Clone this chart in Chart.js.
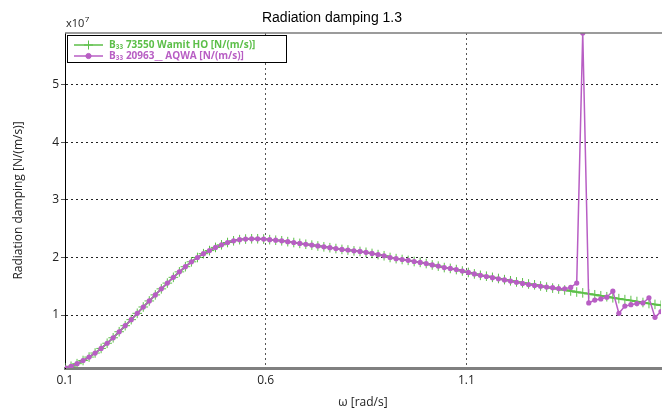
<!DOCTYPE html>
<html>
<head>
<meta charset="utf-8">
<script src="https://cdn.jsdelivr.net/npm/chart.js@4/dist/chart.umd.min.js"></script>
<style>
html, body { margin: 0; padding: 0; background: #fff; }
</style>
</head>
<body>
<canvas id="myChart" width="662" height="408"></canvas>
<script>
// frequencies [rad/s]
const omega = [
  0.100, 0.115, 0.130, 0.145, 0.160, 0.175, 0.190, 0.205, 0.220, 0.235,
  0.250, 0.265, 0.280, 0.295, 0.310, 0.325, 0.340, 0.355, 0.370, 0.385,
  0.400, 0.415, 0.430, 0.445, 0.460, 0.475, 0.490, 0.505, 0.520, 0.535,
  0.550, 0.565, 0.580, 0.595, 0.610, 0.625, 0.640, 0.655, 0.670, 0.685,
  0.700, 0.715, 0.730, 0.745, 0.760, 0.775, 0.790, 0.805, 0.820, 0.835,
  0.850, 0.865, 0.880, 0.895, 0.910, 0.925, 0.940, 0.955, 0.970, 0.985,
  1.000, 1.015, 1.030, 1.045, 1.060, 1.075, 1.090, 1.105, 1.120, 1.135,
  1.150, 1.165, 1.180, 1.195, 1.210, 1.225, 1.240, 1.255, 1.270, 1.285,
  1.300, 1.315, 1.330, 1.345, 1.360, 1.375, 1.390, 1.405, 1.420, 1.435,
  1.450, 1.465, 1.480, 1.495, 1.510, 1.525, 1.540, 1.555, 1.570, 1.585
]

// B33 values in units of 1e7 N/(m/s)
const wamit = [
  0.083, 0.110, 0.155, 0.210, 0.270, 0.340, 0.420, 0.510, 0.605, 0.710,
  0.815, 0.920, 1.030, 1.140, 1.245, 1.350, 1.455, 1.555, 1.655, 1.750,
  1.840, 1.925, 2.000, 2.066, 2.120, 2.175, 2.220, 2.260, 2.290, 2.310,
  2.320, 2.325, 2.325, 2.320, 2.310, 2.300, 2.290, 2.275, 2.260, 2.245,
  2.230, 2.215, 2.200, 2.185, 2.170, 2.155, 2.140, 2.130, 2.115, 2.105,
  2.090, 2.070, 2.050, 2.030, 2.000, 1.980, 1.965, 1.950, 1.930, 1.915,
  1.895, 1.870, 1.850, 1.825, 1.810, 1.790, 1.765, 1.740, 1.715, 1.690,
  1.675, 1.655, 1.635, 1.615, 1.595, 1.575, 1.560, 1.540, 1.525, 1.505,
  1.485, 1.468, 1.452, 1.435, 1.418, 1.400, 1.385, 1.368, 1.352, 1.335,
  1.318, 1.300, 1.285, 1.268, 1.252, 1.235, 1.218, 1.200, 1.185, 1.170
]
const aqwa = [
  0.083, 0.110, 0.155, 0.210, 0.270, 0.340, 0.420, 0.510, 0.605, 0.710,
  0.815, 0.920, 1.030, 1.140, 1.245, 1.350, 1.455, 1.555, 1.655, 1.750,
  1.840, 1.925, 2.000, 2.066, 2.120, 2.175, 2.220, 2.260, 2.290, 2.310,
  2.320, 2.325, 2.325, 2.320, 2.310, 2.300, 2.290, 2.275, 2.260, 2.245,
  2.230, 2.215, 2.200, 2.185, 2.170, 2.155, 2.140, 2.130, 2.115, 2.105,
  2.090, 2.070, 2.050, 2.030, 2.000, 1.980, 1.965, 1.950, 1.930, 1.915,
  1.895, 1.870, 1.850, 1.825, 1.810, 1.790, 1.765, 1.740, 1.715, 1.690,
  1.670, 1.650, 1.630, 1.610, 1.590, 1.570, 1.550, 1.530, 1.515, 1.500,
  1.487, 1.475, 1.460, 1.457, 1.480, 1.556, 5.900, 1.210, 1.260, 1.280,
  1.310, 1.415, 1.030, 1.155, 1.180, 1.200, 1.210, 1.300, 0.960, 1.060
]

const xTicks = [0.1, 0.6, 1.1]
const yTicks = [1, 2, 3, 4, 5]
const seriesNames = ['B\u2083\u2083 73550 Wamit HO [N/(m/s)]', 'B\u2083\u2083 20963__ AQWA [N/(m/s)]']
const chartTitle = 'Radiation damping 1.3'

const green = '#5cbf49'
const purple = '#b85ec4'

// titolo, x10^7, cornice sopra e legenda dentro il grafico
const overlay = {
    id: 'overlay',
    afterDraw(chart) {
        const ctx = chart.ctx
        const area = chart.chartArea
        ctx.save()

        ctx.strokeStyle = '#7a7a7a'
        ctx.lineWidth = 1.5
        ctx.beginPath()
        ctx.moveTo(area.left, area.top)
        ctx.lineTo(area.right + 1, area.top)
        ctx.stroke()

        ctx.fillStyle = '#000'
        ctx.font = '14px "Liberation Sans", Arial, sans-serif'
        ctx.textAlign = 'center'
        ctx.textBaseline = 'middle'
        ctx.fillText(chartTitle, 332, 18)

        ctx.fillStyle = '#222'
        ctx.textAlign = 'left'
        ctx.textBaseline = 'alphabetic'
        ctx.font = '11px "Open Sans", sans-serif'
        ctx.fillText('x10', 66, 27)
        let w = ctx.measureText('x10').width
        ctx.font = '8px "Open Sans", sans-serif'
        ctx.fillText('7', 66 + w + 0.5, 22)

        // legenda
        const bx = 67.5, by = 35.5, bw = 219, bh = 27
        ctx.fillStyle = '#fff'
        ctx.fillRect(bx, by, bw, bh)
        ctx.strokeStyle = '#000'
        ctx.lineWidth = 1
        ctx.strokeRect(bx, by, bw, bh)

        const rows = [
            {name: seriesNames[0], color: green, style: 'cross', radius: 4.5, y: 45},
            {name: seriesNames[1], color: purple, style: 'circle', radius: 2.6, y: 56}
        ]
        rows.forEach(r => {
            ctx.strokeStyle = r.color
            ctx.fillStyle = r.color
            ctx.lineWidth = 1.5
            ctx.beginPath()
            ctx.moveTo(74, r.y)
            ctx.lineTo(103, r.y)
            ctx.stroke()
            ctx.lineWidth = 1
            Chart.helpers.drawPoint(ctx, {pointStyle: r.style, radius: r.radius, borderWidth: 1, rotation: 0}, 88.5, r.y)
            ctx.font = 'bold 10px "Open Sans", sans-serif'
            ctx.textBaseline = 'middle'
            ctx.fillText(r.name, 109, r.y + 0.5)
        })
        ctx.restore()
    }
}

const ctx = document.getElementById('myChart').getContext('2d')
const myChart = new Chart(ctx, {
    type: 'line',
    data: {
        datasets: [
            {
                label: seriesNames[0],
                data: omega.map((w, i) => ({x: w, y: wamit[i]})),
                borderColor: green,
                backgroundColor: green,
                borderWidth: 2,
                pointStyle: 'cross',
                pointRadius: 4.8,
                pointBorderWidth: 1,
                tension: 0,
                order: 2
            },
            {
                label: seriesNames[1],
                data: omega.map((w, i) => ({x: w, y: aqwa[i]})),
                borderColor: purple,
                backgroundColor: purple,
                borderWidth: 1.5,
                pointStyle: 'circle',
                pointRadius: 2.6,
                pointBorderWidth: 0,
                tension: 0,
                order: 1
            }
        ]
    },
    options: {
        responsive: false,
        animation: false,
        events: [],
        layout: {
            autoPadding: false,
            padding: {top: 33, right: 1, bottom: 0, left: 0}
        },
        scales: {
            x: {
                type: 'linear',
                min: 0.1,
                max: 1.585,
                afterBuildTicks: s => { s.ticks = xTicks.map(v => ({value: v})) },
                afterFit: s => { s.height = 40; s.paddingRight = 0; s.paddingLeft = 0 },
                ticks: {
                    color: '#222',
                    font: {family: '"Open Sans", sans-serif', size: 12},
                    padding: 5,
                    maxRotation: 0,
                    callback: v => v.toFixed(1)
                },
                grid: {
                    color: '#555',
                    drawTicks: false,
                    borderDash: [2, 3]
                },
                border: {
                    color: '#808080',
                    width: 3,
                    dash: [2, 3]
                },
                title: {
                    display: true,
                    text: 'ω [rad/s]',
                    color: '#222',
                    font: {family: '"Open Sans", sans-serif', size: 12},
                    padding: {top: 0, bottom: -2}
                }
            },
            y: {
                min: 0.08,
                max: 5.9,
                afterBuildTicks: s => { s.ticks = yTicks.map(v => ({value: v})) },
                afterFit: s => { s.width = 65 },
                ticks: {
                    color: '#222',
                    font: {family: '"Open Sans", sans-serif', size: 12},
                    padding: 2,
                    callback: v => String(v)
                },
                grid: {
                    color: '#222',
                    tickLength: 4,
                    tickColor: '#555',
                    tickBorderDash: [],
                    borderDash: [2, 3]
                },
                border: {
                    color: '#000',
                    width: 1,
                    dash: [2, 3]
                },
                title: {
                    display: true,
                    text: 'Radiation damping [N/(m/s)]',
                    color: '#222',
                    font: {family: '"Open Sans", sans-serif', size: 12},
                    padding: {top: 11, bottom: 0}
                }
            }
        },
        plugins: {
            legend: {display: false},
            title: {display: false},
            tooltip: {enabled: false}
        }
    },
    plugins: [overlay]
})
</script>
</body>
</html>
